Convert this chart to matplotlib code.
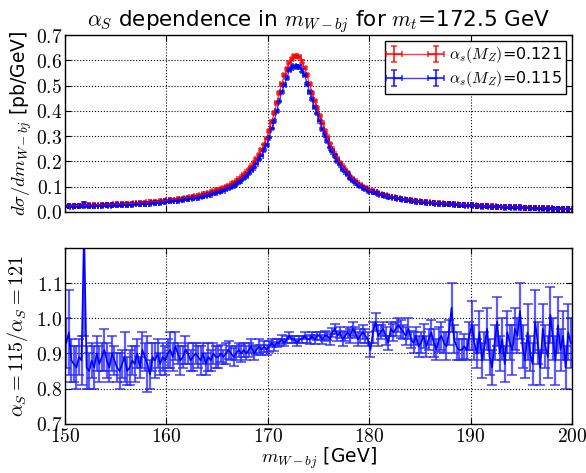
"""
alpha_S dependence of the m_{W-bj} distribution, with ratio panel
"""

import numpy as np
import matplotlib
matplotlib.use('Agg')
import matplotlib.pyplot as plt
from matplotlib.ticker import FuncFormatter

# Binning: 0.25 GeV bins from 150 to 200 GeV
bin_edges = np.arange(150.0, 200.001, 0.25)

# dsigma/dm for alpha_s(M_Z)=0.121 [pb/GeV]
xsec_121 = [
    0.024, 0.024, 0.024, 0.025, 0.025, 0.025, 0.025, 0.026, 0.026, 0.026,
    0.027, 0.027, 0.027, 0.028, 0.028, 0.028, 0.029, 0.029, 0.029, 0.030,
    0.030, 0.031, 0.031, 0.032, 0.032, 0.033, 0.033, 0.034, 0.035, 0.035,
    0.036, 0.037, 0.038, 0.039, 0.040, 0.040, 0.041, 0.042, 0.043, 0.045,
    0.046, 0.047, 0.048, 0.049, 0.050, 0.052, 0.053, 0.055, 0.056, 0.058,
    0.060, 0.062, 0.064, 0.066, 0.069, 0.072, 0.075, 0.078, 0.082, 0.086,
    0.088, 0.091, 0.095, 0.099, 0.104, 0.109, 0.115, 0.122, 0.129, 0.137,
    0.146, 0.156, 0.167, 0.180, 0.194, 0.209, 0.226, 0.245, 0.266, 0.290,
    0.320, 0.355, 0.390, 0.430, 0.470, 0.505, 0.540, 0.565, 0.590, 0.605,
    0.615, 0.618, 0.612, 0.595, 0.570, 0.540, 0.505, 0.470, 0.440, 0.410,
    0.380, 0.350, 0.320, 0.295, 0.270, 0.248, 0.228, 0.210, 0.194, 0.180,
    0.167, 0.155, 0.140, 0.130, 0.121, 0.113, 0.106, 0.100, 0.095, 0.090,
    0.086, 0.082, 0.078, 0.074, 0.071, 0.068, 0.065, 0.062, 0.060, 0.058,
    0.056, 0.054, 0.052, 0.050, 0.049, 0.047, 0.046, 0.045, 0.043, 0.042,
    0.041, 0.040, 0.039, 0.038, 0.037, 0.036, 0.035, 0.035, 0.034, 0.033,
    0.032, 0.032, 0.031, 0.030, 0.030, 0.029, 0.028, 0.028, 0.027, 0.027,
    0.026, 0.026, 0.025, 0.025, 0.024, 0.024, 0.023, 0.023, 0.022, 0.022,
    0.021, 0.021, 0.020, 0.020, 0.019, 0.019, 0.019, 0.018, 0.018, 0.018,
    0.017, 0.017, 0.017, 0.016, 0.016, 0.016, 0.015, 0.015, 0.015, 0.014,
    0.014, 0.014, 0.013, 0.013, 0.013, 0.013, 0.012, 0.012, 0.012, 0.012,
]

# ratio alpha_s=0.115 / alpha_s=0.121
ratio = [
    0.93, 0.96, 0.88, 0.87, 0.86, 0.89, 0.88, 1.25, 0.86, 0.85,
    0.88, 0.86, 0.90, 0.87, 0.89, 0.91, 0.88, 0.86, 0.90, 0.88,
    0.86, 0.85, 0.87, 0.89, 0.85, 0.86, 0.88, 0.87, 0.90, 0.86,
    0.91, 0.89, 0.87, 0.84, 0.89, 0.88, 0.90, 0.87, 0.89, 0.88,
    0.90, 0.91, 0.89, 0.92, 0.90, 0.88, 0.89, 0.91, 0.90, 0.88,
    0.89, 0.90, 0.89, 0.88, 0.90, 0.87, 0.89, 0.88, 0.90, 0.89,
    0.89, 0.90, 0.89, 0.90, 0.91, 0.90, 0.89, 0.90, 0.91, 0.90,
    0.91, 0.90, 0.91, 0.92, 0.90, 0.91, 0.92, 0.91, 0.92, 0.91,
    0.92, 0.93, 0.92, 0.93, 0.93, 0.94, 0.93, 0.94, 0.95, 0.94,
    0.94, 0.93, 0.94, 0.94, 0.95, 0.94, 0.94, 0.95, 0.94, 0.95,
    0.95, 0.94, 0.95, 0.95, 0.94, 0.96, 0.97, 0.95, 0.96, 0.94,
    0.95, 0.96, 0.95, 0.97, 0.96, 0.94, 0.95, 0.96, 0.95, 0.94,
    0.91, 0.96, 0.99, 0.95, 0.96, 0.97, 0.95, 0.93, 0.97, 0.96,
    0.97, 0.98, 0.97, 0.96, 0.95, 0.97, 0.94, 0.93, 0.95, 0.92,
    0.93, 0.95, 0.92, 0.94, 0.96, 0.93, 0.91, 0.94, 0.95, 0.93,
    0.92, 0.96, 1.03, 0.94, 0.92, 0.91, 0.91, 0.92, 0.91, 0.95,
    0.98, 0.93, 0.90, 0.96, 0.88, 0.92, 0.97, 0.89, 0.86, 0.93,
    0.99, 0.90, 0.94, 0.87, 0.96, 0.93, 0.91, 0.97, 0.95, 1.02,
    0.92, 0.88, 0.96, 0.90, 0.87, 0.99, 0.93, 0.86, 0.97, 0.92,
    0.89, 1.01, 0.94, 0.88, 0.98, 0.91, 0.95, 0.86, 0.96, 0.93,
]

# statistical uncertainty on the ratio
ratio_err = [
    0.07, 0.12, 0.06, 0.05, 0.06, 0.05, 0.07, 0.30, 0.06, 0.05,
    0.05, 0.06, 0.05, 0.05, 0.04, 0.06, 0.05, 0.04, 0.05, 0.04,
    0.04, 0.05, 0.04, 0.07, 0.04, 0.05, 0.04, 0.05, 0.04, 0.03,
    0.05, 0.04, 0.08, 0.04, 0.04, 0.05, 0.04, 0.03, 0.04, 0.04,
    0.04, 0.05, 0.04, 0.04, 0.03, 0.04, 0.03, 0.04, 0.03, 0.03,
    0.04, 0.03, 0.03, 0.04, 0.03, 0.03, 0.04, 0.03, 0.03, 0.03,
    0.03, 0.025, 0.02, 0.03, 0.025, 0.02, 0.025, 0.02, 0.02, 0.025,
    0.02, 0.02, 0.02, 0.02, 0.02, 0.015, 0.02, 0.015, 0.015, 0.015,
    0.015, 0.012, 0.012, 0.012, 0.01, 0.012, 0.01, 0.01, 0.01, 0.01,
    0.01, 0.01, 0.01, 0.01, 0.01, 0.01, 0.012, 0.01, 0.012, 0.012,
    0.012, 0.012, 0.015, 0.012, 0.015, 0.012, 0.015, 0.015, 0.015, 0.02,
    0.015, 0.015, 0.02, 0.02, 0.015, 0.02, 0.02, 0.02, 0.02, 0.02,
    0.02, 0.03, 0.025, 0.03, 0.02, 0.02, 0.025, 0.02, 0.02, 0.025,
    0.02, 0.02, 0.025, 0.02, 0.025, 0.03, 0.025, 0.03, 0.025, 0.03,
    0.03, 0.035, 0.03, 0.03, 0.035, 0.04, 0.03, 0.035, 0.04, 0.03,
    0.04, 0.035, 0.07, 0.04, 0.04, 0.03, 0.03, 0.035, 0.03, 0.04,
    0.07, 0.05, 0.04, 0.06, 0.05, 0.04, 0.06, 0.05, 0.05, 0.05,
    0.07, 0.05, 0.06, 0.05, 0.06, 0.05, 0.07, 0.06, 0.05, 0.08,
    0.06, 0.05, 0.08, 0.05, 0.06, 0.09, 0.06, 0.05, 0.07, 0.06,
    0.06, 0.08, 0.06, 0.07, 0.08, 0.06, 0.07, 0.06, 0.08, 0.07,
]

labels = [r'$\alpha_s(M_Z)$=0.121', r'$\alpha_s(M_Z)$=0.115']

plt.rcParams['mathtext.fontset'] = 'cm'
plt.rcParams['font.family'] = 'DejaVu Sans'

centers = 0.5 * (bin_edges[:-1] + bin_edges[1:])
half_width = 0.5 * np.diff(bin_edges)
xsec_121 = np.array(xsec_121)
ratio = np.array(ratio)
ratio_err = np.array(ratio_err)

# the 0.115 curve follows from the ratio; split the ratio error between the two
xsec_115 = xsec_121 * ratio
rel_err = ratio_err / ratio / np.sqrt(2)
err_121 = np.minimum(xsec_121 * rel_err, 0.01)
err_115 = np.minimum(xsec_115 * rel_err, 0.01)

fig = plt.figure(figsize=(5.86, 4.73), dpi=100)
ax1 = fig.add_axes([0.111, 0.552, 0.865, 0.374])
ax2 = fig.add_axes([0.111, 0.104, 0.865, 0.372])

mformat = FuncFormatter(lambda v, p: r'$%.1f$' % v)
xformat = FuncFormatter(lambda v, p: r'$%d$' % v)

# top panel
ax1.errorbar(centers, xsec_121, yerr=err_121, xerr=half_width, fmt='-',
             color='r', lw=1.0, elinewidth=1.5, capsize=2.5, capthick=1.2,
             alpha=0.75, label=labels[0])
ax1.errorbar(centers, xsec_115, yerr=err_115, xerr=half_width, fmt='-',
             color='b', lw=1.0, elinewidth=1.5, capsize=2.5, capthick=1.2,
             alpha=0.75, label=labels[1])
ax1.set_xlim(150, 200)
ax1.set_ylim(0, 0.7)
ax1.set_yticks(np.arange(0, 0.71, 0.1))
ax1.yaxis.set_major_formatter(mformat)
ax1.set_xticks(np.arange(150, 201, 10))
ax1.set_xticklabels([])
ax1.set_ylabel(r'$d\sigma/dm_{W-bj}$ [pb/GeV]', fontsize=13.5, labelpad=1)
ax1.set_title(r'$\alpha_S$ dependence in $m_{W-bj}$ for $m_t$=172.5 GeV',
              fontsize=15.5, pad=3)
leg = ax1.legend(loc='upper right', fontsize=11.5, fancybox=False,
                 numpoints=2, handlelength=3.2, borderpad=0.3,
                 labelspacing=0.25, handletextpad=0.5, borderaxespad=0.35)
leg.get_frame().set_edgecolor('k')
leg.get_frame().set_alpha(1.0)

# bottom panel
ax2.errorbar(centers, ratio, yerr=ratio_err, fmt='-', color='b', lw=1.2,
             ecolor=(0.15, 0.15, 1.0, 0.75), elinewidth=1.6, capsize=3.5,
             capthick=1.3)
ax2.set_xlim(150, 200)
ax2.set_ylim(0.7, 1.2)
ax2.set_yticks(np.arange(0.7, 1.11, 0.1))
ax2.yaxis.set_major_formatter(mformat)
ax2.set_xticks(np.arange(150, 201, 10))
ax2.xaxis.set_major_formatter(xformat)
ax2.set_ylabel(r'$\alpha_S=115/\alpha_S=121$', fontsize=14.5, labelpad=4)
ax2.set_xlabel(r'$m_{W-bj}$ [GeV]', fontsize=13.5, labelpad=0)

for ax in (ax1, ax2):
    ax.grid(True, color='k', linestyle=':', linewidth=0.8)
    ax.tick_params(direction='in', top=True, right=True, labelsize=14,
                   length=4, pad=2)
    for s in ax.spines.values():
        s.set_linewidth(1.0)

fig.savefig('out.png', dpi=100)
